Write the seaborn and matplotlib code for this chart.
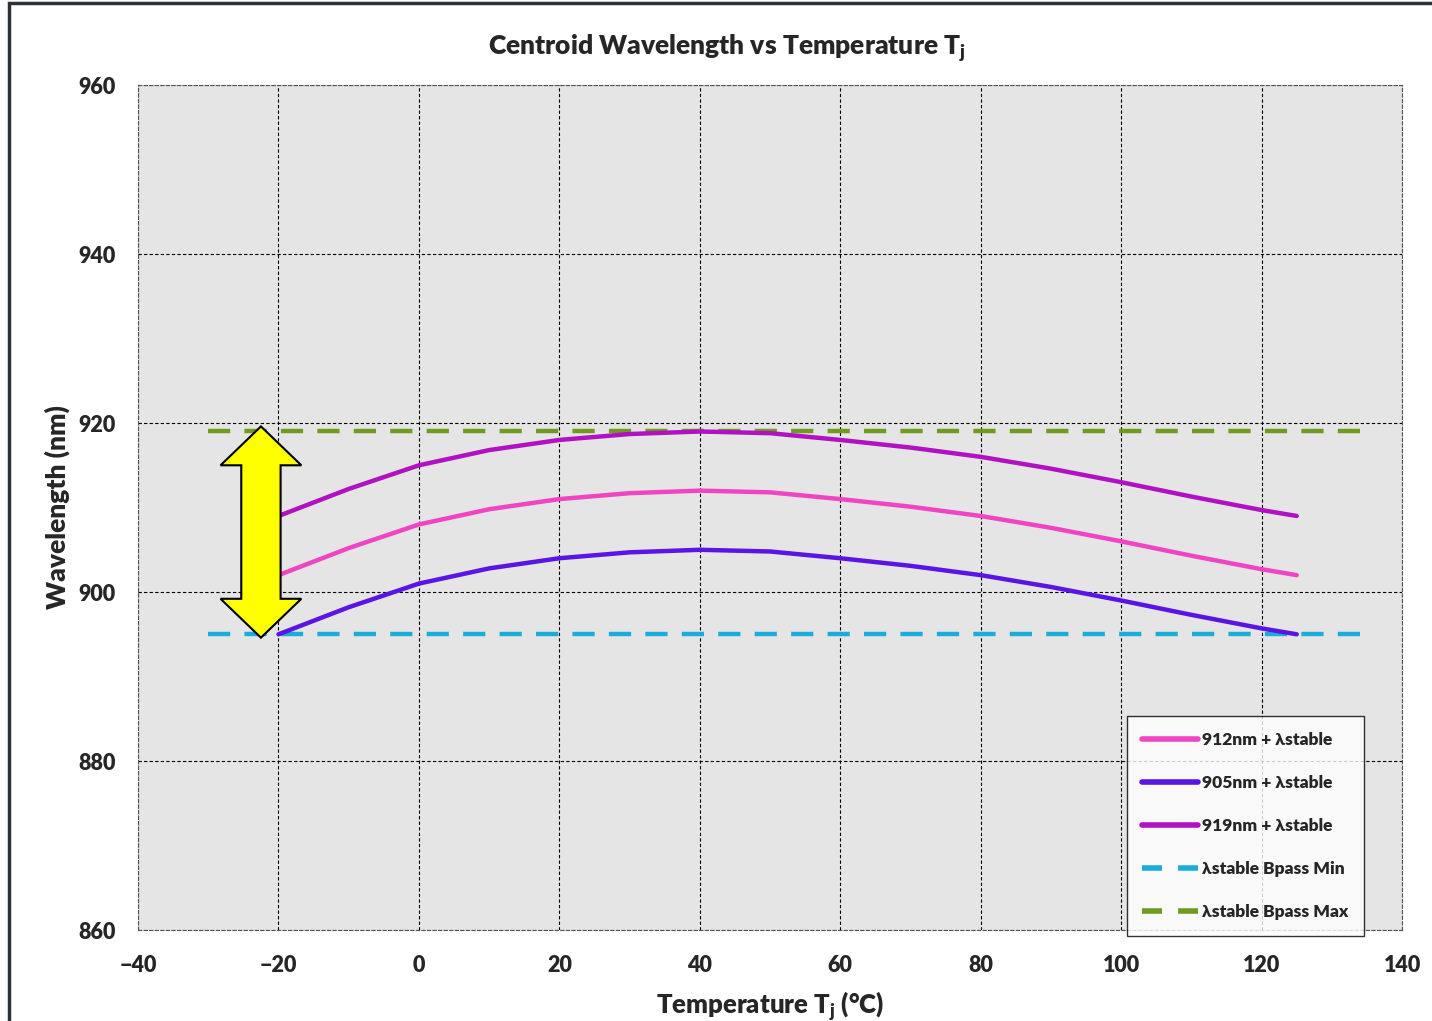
import numpy as np
import pandas as pd
import seaborn as sns
import matplotlib.pyplot as plt
from matplotlib.patches import Polygon, Rectangle
from matplotlib.lines import Line2D

# data
temps = [-20, -10, 0, 10, 20, 30, 40, 50, 60, 70, 80, 90, 100, 110, 120, 125]
wl_912 = [902.0, 905.2, 908.0, 909.8, 911.0, 911.7, 912.0, 911.8, 911.0, 910.1, 909.0, 907.6, 906.0, 904.3, 902.7, 902.0]
wl_905 = [895.0, 898.2, 901.0, 902.8, 904.0, 904.7, 905.0, 904.8, 904.0, 903.1, 902.0, 900.6, 899.0, 897.3, 895.7, 895.0]
wl_919 = [909.0, 912.2, 915.0, 916.8, 918.0, 918.7, 919.0, 918.8, 918.0, 917.1, 916.0, 914.6, 913.0, 911.3, 909.7, 909.0]
band_x = [-30, 134]
band_min = [895, 895]
band_max = [919, 919]

series_names = ['912nm + \u03bbstable', '905nm + \u03bbstable', '919nm + \u03bbstable']
series_colors = ['#EF45C3', '#5A14E4', '#B012C2']
min_name = '\u03bbstable Bpass Min'
max_name = '\u03bbstable Bpass Max'
min_color = '#1BADD9'
max_color = '#6E9A1F'

sns.set_style('white')
plt.rcParams['font.family'] = ['Lato', 'DejaVu Sans']
plt.rcParams['font.weight'] = 'heavy'
plt.rcParams['axes.titleweight'] = 'heavy'
plt.rcParams['axes.labelweight'] = 'heavy'
plt.rcParams['mathtext.fontset'] = 'custom'
plt.rcParams['mathtext.rm'] = 'Lato:heavy'
plt.rcParams['mathtext.it'] = 'Lato:heavy'

df = pd.DataFrame({
    'T': temps * 3,
    'wl': wl_912 + wl_905 + wl_919,
    'series': [series_names[0]] * len(temps) + [series_names[1]] * len(temps) + [series_names[2]] * len(temps),
})

fig = plt.figure(figsize=(14.32, 10.21), dpi=100)
ax = fig.add_axes([0.0964, 0.0891, 0.8827, 0.8276])
ax.set_facecolor('#E6E5E6')

# dashed bandpass limits
sns.lineplot(x=band_x, y=band_min, ax=ax, color=min_color, lw=3.2, dashes=(5, 3.2), label=min_name)
sns.lineplot(x=band_x, y=band_max, ax=ax, color=max_color, lw=3.2, dashes=(5, 3.2), label=max_name)

sns.lineplot(data=df, x='T', y='wl', hue='series', hue_order=series_names,
             palette=dict(zip(series_names, series_colors)), lw=3.2, ax=ax,
             solid_capstyle='round')

# yellow double arrow spanning the bandpass
cx, top, bot = -22.5, band_max[0] + 0.6, band_min[0] - 0.4
sw, hw, hl = 2.8, 5.75, 4.6
arrow_pts = [(cx, top), (cx + hw, top - hl), (cx + sw, top - hl), (cx + sw, bot + hl),
             (cx + hw, bot + hl), (cx, bot), (cx - hw, bot + hl), (cx - sw, bot + hl),
             (cx - sw, top - hl), (cx - hw, top - hl)]
ax.add_patch(Polygon(arrow_pts, closed=True, fc='#FFFF00', ec='black', lw=1.5,
                     joinstyle='miter', zorder=5))

ax.set_xlim(-40, 140)
ax.set_ylim(860, 960)
ax.set_xticks(range(-40, 141, 20))
ax.set_yticks(range(860, 961, 20))
ax.tick_params(axis='both', length=0, labelsize=15.5)
ax.tick_params(axis='x', pad=18)
ax.tick_params(axis='y', pad=16)
ax.grid(True, color='black', lw=0.8, ls=(0, (3, 2)))
for sp in ax.spines.values():
    sp.set_color('#555555')
    sp.set_linestyle((0, (3, 2)))
    sp.set_linewidth(0.8)

ttl = ax.set_title(r'Centroid Wavelength vs Temperature T$_\mathrm{j}$', fontsize=19, pad=22)
ttl.set_x(0.466)
ax.set_xlabel(r'Temperature T$_\mathrm{j}$ ($\degree$C)', fontsize=18.5, labelpad=10)
ax.set_ylabel('Wavelength (nm)', fontsize=19, labelpad=6)

handles = [Line2D([], [], color=c, lw=4, solid_capstyle='round') for c in series_colors]
handles += [Line2D([], [], color=min_color, lw=4, dashes=(3.6, 2.9)),
            Line2D([], [], color=max_color, lw=4, dashes=(3.6, 2.9))]
labels = series_names + [min_name, max_name]
leg = ax.legend(handles, labels, loc='lower right', bbox_to_anchor=(0.9695, -0.007),
                frameon=True, fancybox=False, fontsize=12.5, handlelength=3.2,
                handletextpad=0.2, labelspacing=1.56, borderpad=0.9, borderaxespad=0)
leg.get_frame().set_edgecolor('black')
leg.get_frame().set_linewidth(1.0)

# figure border (left/top visible in reference)
fig.patches.append(Rectangle((0.006, -0.02), 1.1, 1.017, transform=fig.transFigure,
                             fill=False, ec='#2B3338', lw=2.5))

fig.savefig('out.png', dpi=100)
